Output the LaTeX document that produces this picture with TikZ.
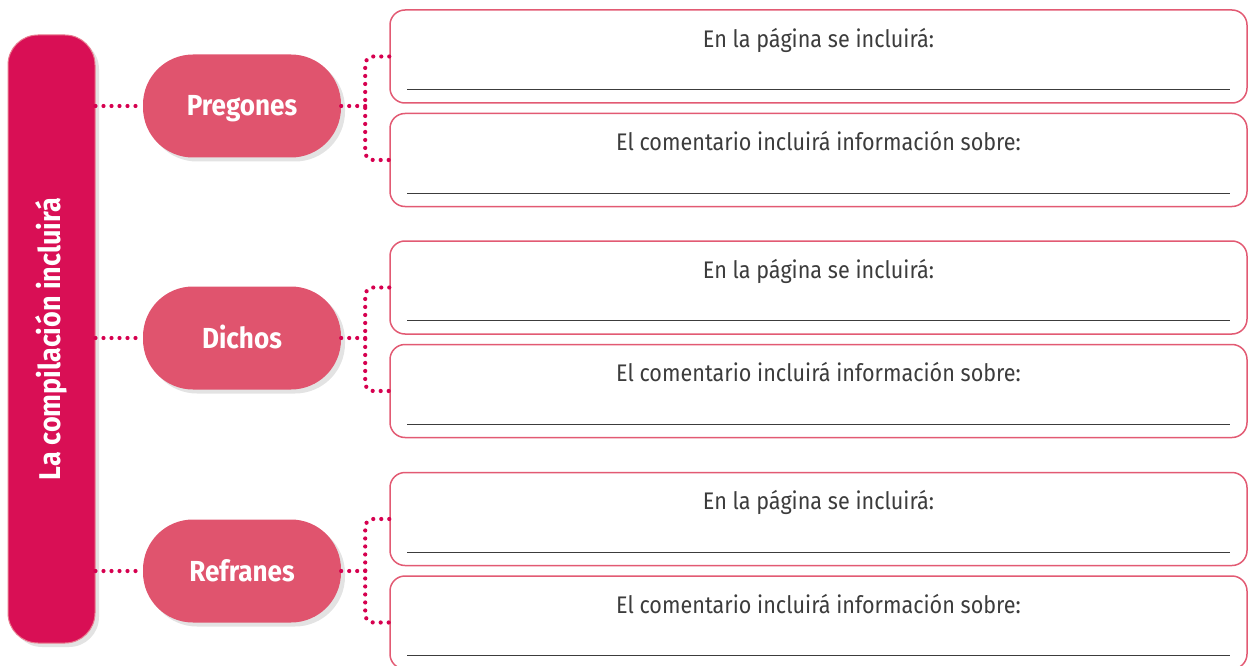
\documentclass[tikz,border=0pt]{standalone}
\usepackage{fontspec}
\setmainfont{Fira Sans}[FakeStretch=0.9]
\usepackage{tikz}
\usetikzlibrary{positioning, calc, shadows}

\definecolor{barred}{HTML}{D90F55}
\definecolor{topicpink}{HTML}{E0546E}
\definecolor{boxline}{HTML}{E25A73}
\definecolor{dotred}{HTML}{D6004F}
\definecolor{textgray}{HTML}{3C3C3C}

\begin{document}
\begin{tikzpicture}[
    x=1pt, y=-1pt,
    mainbar/.style={rectangle, rounded corners=30pt, fill=barred, draw=boxline!80, line width=1pt, minimum width=87pt, minimum height=608pt, drop shadow={shadow xshift=4pt, shadow yshift=-4pt, fill=black!22}},
    topic/.style={rectangle, rounded corners=50pt, fill=topicpink, minimum width=198pt, minimum height=103pt, text height=20pt, text depth=0pt, text=white, font=\bfseries\fontsize{29}{32}\selectfont, drop shadow={shadow xshift=4pt, shadow yshift=-4pt, fill=black!22}},
    infobox/.style={rectangle, rounded corners=15pt, draw=boxline, line width=1.5pt, minimum width=857pt, minimum height=93pt},
    prompt/.style={text=textgray, font=\fontsize{24}{27}\selectfont, anchor=base},
    rule/.style={textgray, line width=1.4pt},
    dots/.style={dotred, line width=4.2pt, line cap=round, dash pattern=on 0pt off 8pt}
]
\useasboundingbox (0,0) rectangle (1253,666);

% Left bar
\node[mainbar] (bar) at (51.5,339) {};
\node[rotate=90, text=white, font=\bfseries\fontsize{30}{34}\selectfont] (bartitle) at (bar.center) {La compilación incluirá};

% Topics
\node[topic] (preg) at (242,106) {Pregones};
\node[topic] (dich) at (242,338) {Dichos};
\node[topic] (refr) at (242,571) {Refranes};

% Boxes
\node[infobox] (p1) at (818.5,56.5) {};
\node[infobox, below=9pt of p1] (p2) {};
\node[infobox] (d1) at (818.5,287.5) {};
\node[infobox, below=9pt of d1] (d2) {};
\node[infobox] (r1) at (818.5,519) {};
\node[infobox, below=9pt of r1] (r2) {};

% Box texts and lines
\foreach \b/\t in {p1/En la página se incluirá:, p2/El comentario incluirá información sobre:,
                   d1/En la página se incluirá:, d2/El comentario incluirá información sobre:,
                   r1/En la página se incluirá:, r2/El comentario incluirá información sobre:} {
  \node[prompt] (\b t) at ($(\b.north)+(0,38)$) {\t};
  \draw[rule] ($(\b.south west)+(18,-14)$) -- ($(\b.south east)+(-18,-14)$);
}

% Dotted connectors
\foreach \t/\u/\l in {preg/p1/p2, dich/d1/d2, refr/r1/r2} {
  \coordinate (\t b) at ($(\t.east)+(24,0)$);
  \draw[dots] (bar.east |- \t.west) -- (\t.west);
  \draw[dots] (\t.east) -- (\t b);
  \draw[dots, rounded corners=8pt] (\u.west) -| (\t b) |- (\l.west);
}

\end{tikzpicture}
\end{document}
